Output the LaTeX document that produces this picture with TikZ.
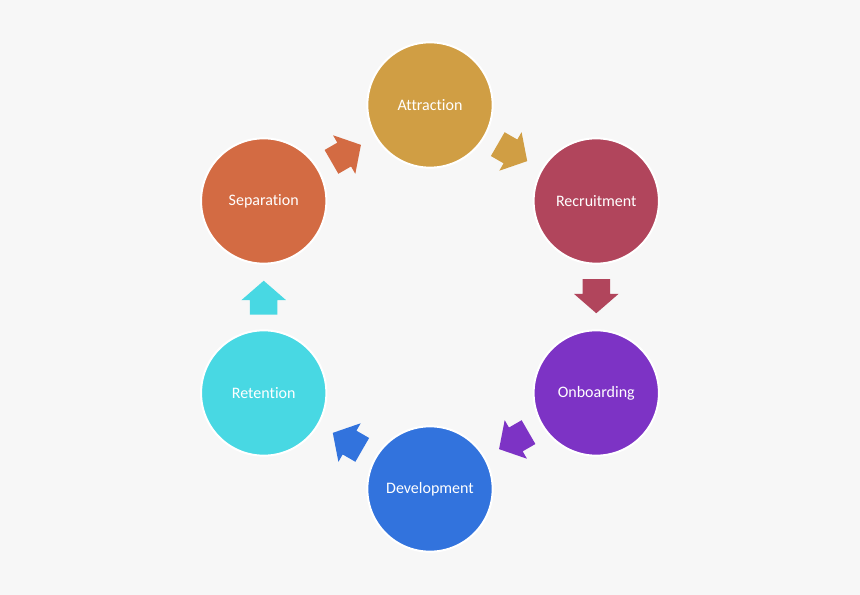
\documentclass[tikz,border=0pt]{standalone}
\usepackage{fontspec}
\setmainfont[Ligatures=NoCommon]{Carlito}
\usetikzlibrary{shapes.arrows,calc}
\definecolor{bgcol}{HTML}{F7F7F7}
\definecolor{cAttr}{HTML}{D09E44}
\definecolor{cRecr}{HTML}{B1455C}
\definecolor{cOnbo}{HTML}{7D33C5}
\definecolor{cDevl}{HTML}{3273DD}
\definecolor{cRetn}{HTML}{48D8E3}
\definecolor{cSepa}{HTML}{D36B43}
\tikzset{
  stage/.style={circle,draw=white,line width=1.5pt,minimum size=94pt,inner sep=0pt,
                text=white,font=\fontsize{12}{14}\selectfont},
  blockarr/.style={single arrow,minimum height=25.5pt,inner xsep=0pt,inner ysep=10.1pt,
                   single arrow head extend=6.4pt,single arrow tip angle=98,
                   single arrow head indent=0pt},
}

\begin{document}
\begin{tikzpicture}[x=0.75pt,y=0.75pt]
  \fill[bgcol] (-430,-298) rectangle (430,297);
  % stages round the cycle
  \foreach \ang/\nm/\txt/\col in {90/attr/Attraction/cAttr, 30/recr/Recruitment/cRecr,
      -30/onbo/Onboarding/cOnbo, -90/devl/Development/cDevl,
      -150/retn/Retention/cRetn, 150/sepa/Separation/cSepa} {
    \node[stage,fill=\col] (\nm) at (\ang:192) {\txt};
  }
  % block arrows between stages
  \foreach \a/\b/\col/\rot in {attr/recr/cAttr/-30, recr/onbo/cRecr/-90,
      onbo/devl/cOnbo/-150, devl/retn/cDevl/150,
      retn/sepa/cRetn/90, sepa/attr/cSepa/30} {
    \node[blockarr,fill=\col,rotate=\rot] (\a-\b) at ($(\a)!0.465!(\b)$) {};
  }
\end{tikzpicture}
\end{document}
